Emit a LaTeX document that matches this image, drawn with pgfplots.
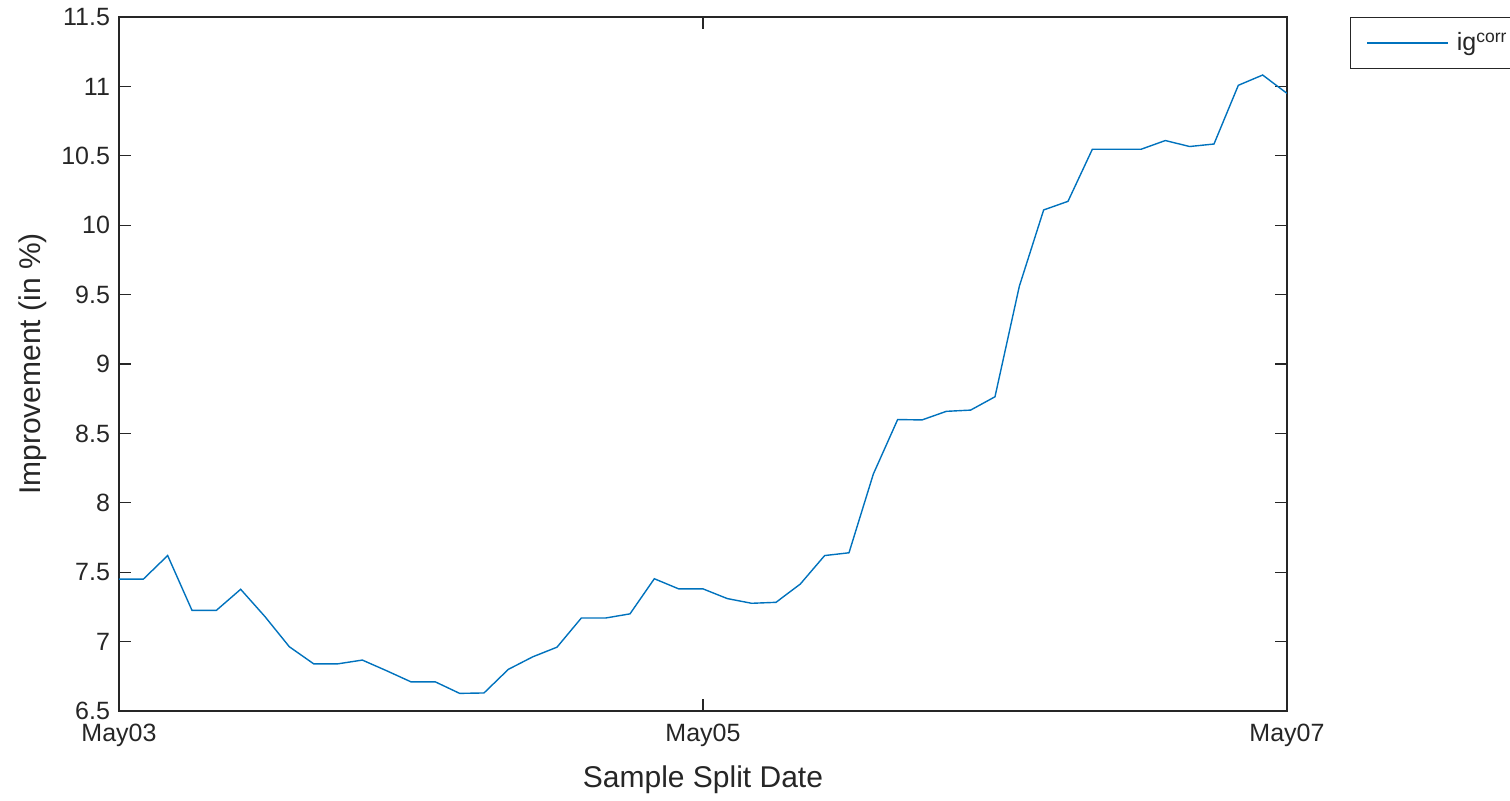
\documentclass[border=0pt]{standalone}
\usepackage{pgfplots}
\pgfplotsset{compat=1.18}
\usepackage{fontspec}
\setmainfont{Liberation Sans}
\definecolor{mblue}{rgb}{0,0.447,0.741}
\definecolor{axgray}{rgb}{0.15,0.15,0.15}
\pgfplotstableread{
h v
0 7.45
2 7.45
4 7.62
6 7.225
8 7.225
10 7.377
12 7.18
14 6.963
16 6.84
18 6.84
20 6.867
22 6.79
24 6.71
26 6.71
28 6.627
30 6.63
32 6.80
34 6.89
36 6.96
38 7.17
40 7.17
42 7.20
44 7.453
46 7.38
48 7.38
50 7.31
52 7.276
54 7.283
56 7.415
58 7.62
60 7.64
62 8.207
64 8.60
66 8.597
68 8.659
70 8.668
72 8.764
74 9.56
76 10.11
78 10.172
80 10.547
82 10.547
84 10.547
86 10.61
88 10.567
90 10.585
92 11.008
94 11.082
96 10.95
}\datatable
\begin{document}
\begin{tikzpicture}
\begin{axis}[
  name=ax,
  scale only axis, width=584pt, height=347pt,
  xmin=0, xmax=96, ymin=6.5, ymax=11.5,
  xtick={0,48,96}, xticklabels={May03,May05,May07},
  ytick={6.5,7,...,11.5},
  tick align=inside, major tick length=6pt,
  axis line style={axgray, line width=0.6pt},
  every tick/.style={axgray, line width=0.6pt},
  tick label style={font=\fontsize{12.5}{14}\selectfont, text=axgray},
  /pgf/number format/assume math mode=true,
  yticklabel style={xshift=-1pt},
  xticklabel style={yshift=-3pt},
  xlabel={Sample Split Date},
  ylabel={Improvement (in \%)},
  every axis x label/.style={at={(axis description cs:0.5,-0.0994)}, anchor=center,
    font=\fontsize{15}{18}\selectfont, text=axgray},
  every axis y label/.style={at={(axis description cs:-0.0736,0.5)}, rotate=90, anchor=center,
    font=\fontsize{15}{18}\selectfont, text=axgray},
  legend style={at={(1.0539,1)}, anchor=north west, draw=axgray, line width=0.6pt,
    font=\fontsize{12.5}{14}\selectfont, text=axgray, inner xsep=8pt, inner ysep=5.5pt},
  legend image code/.code={\draw[#1, line width=0.7pt] (0pt,0pt) -- (40.5pt,0pt);},
  legend cell align=left,
]
\addplot[mblue, line width=0.7pt] table[x=h, y=v] {\datatable};
\addlegendentry{\hspace{2pt}ig\textsuperscript{corr}\hspace{20pt}}
\end{axis}
\pgfresetboundingbox
\path ([shift={(-59.5pt,-44.5pt)}]ax.south west) rectangle ([shift={(695.5pt,355.5pt)}]ax.south west);
\end{tikzpicture}
\end{document}
